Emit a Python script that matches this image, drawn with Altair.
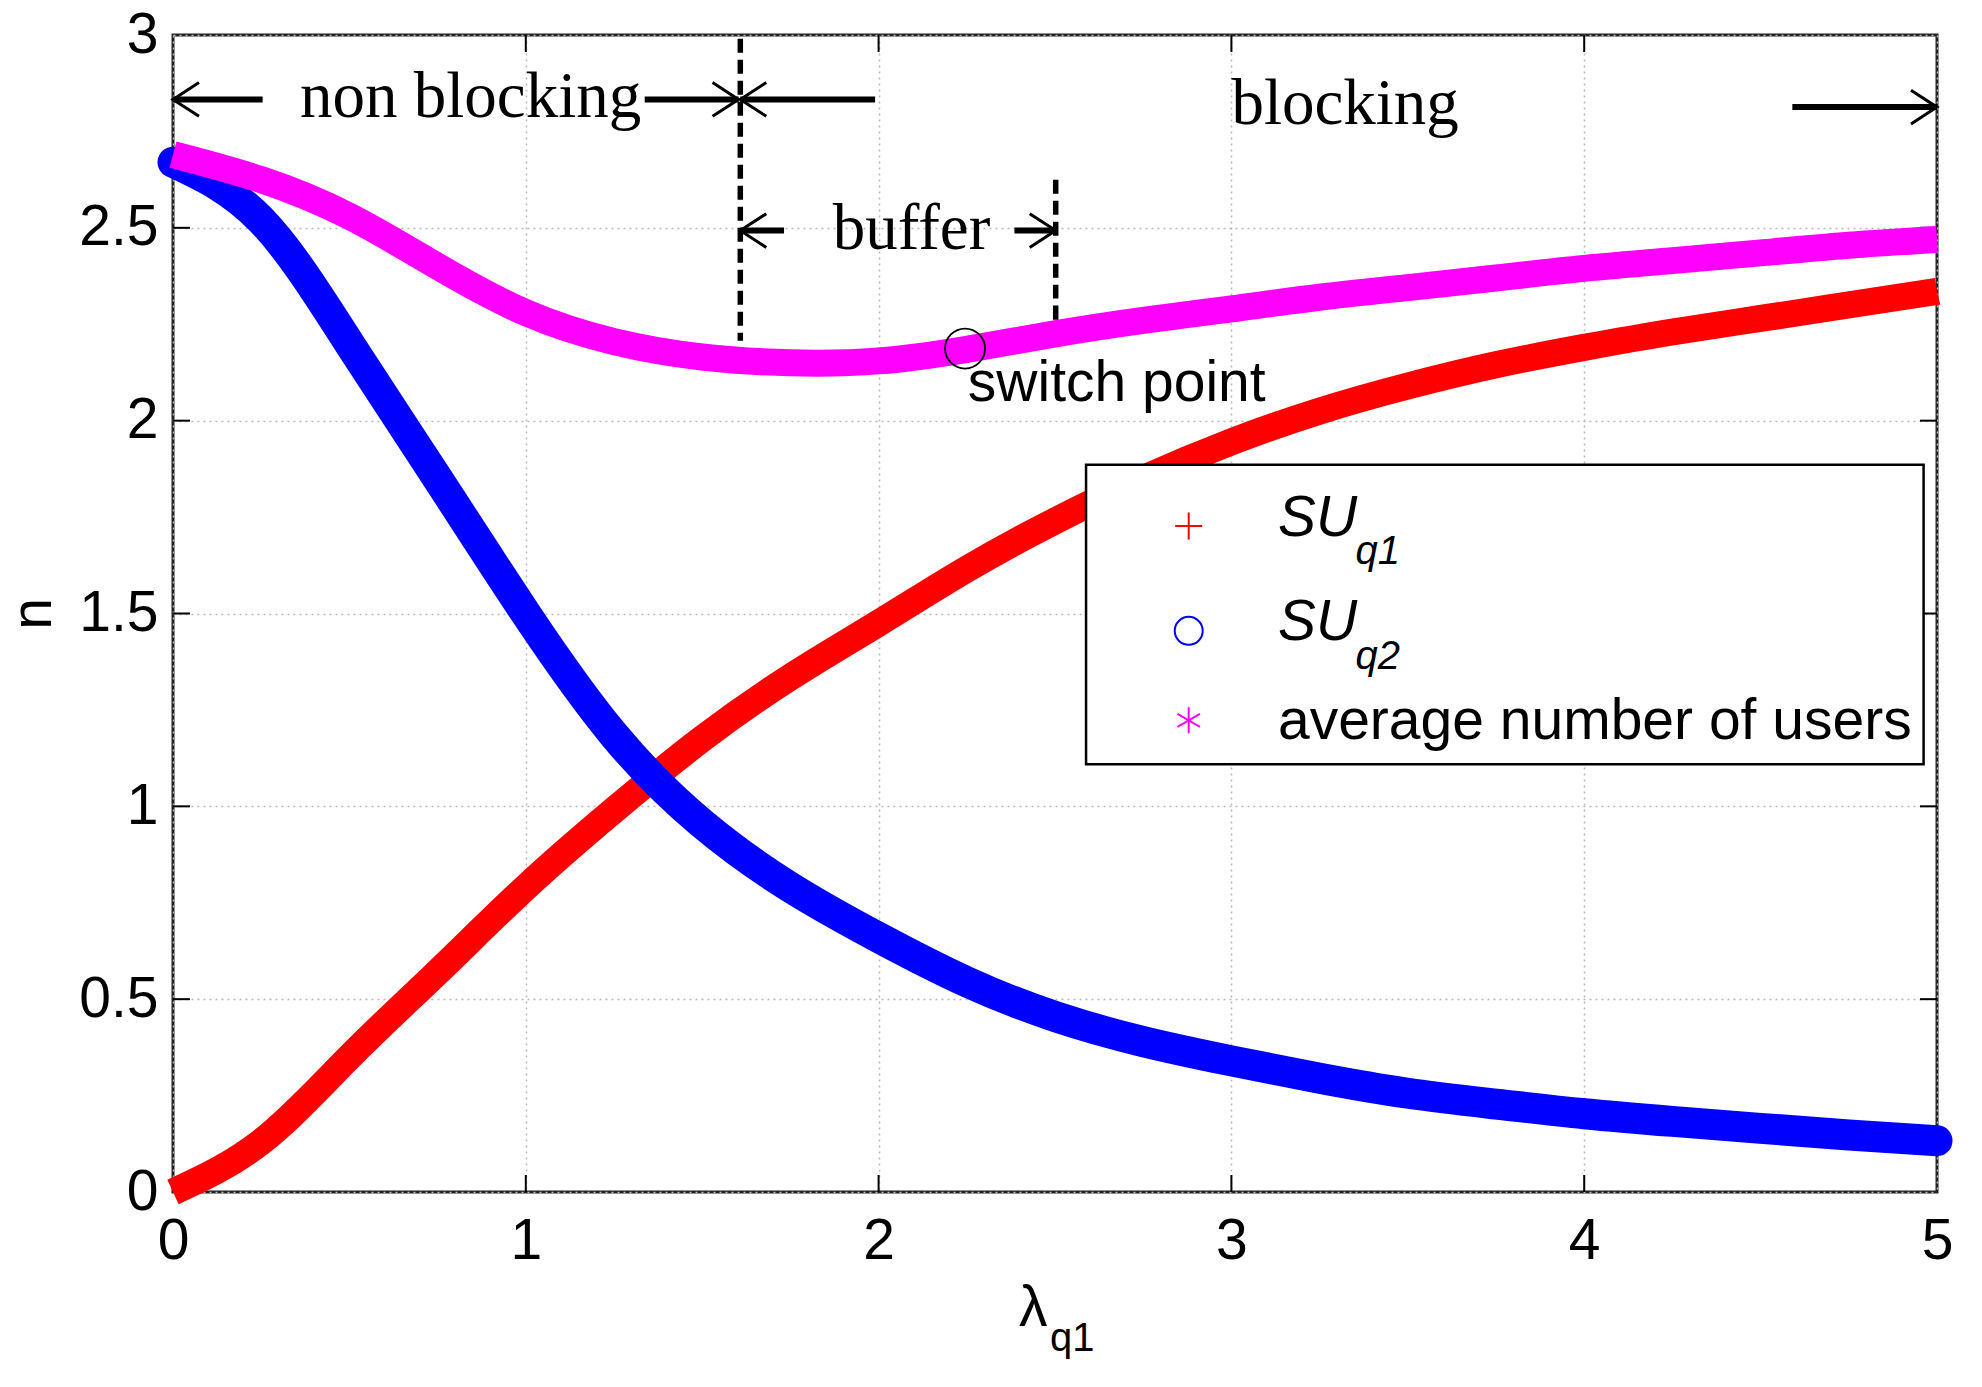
import altair as alt
import pandas as pd

# ---------------- data ----------------
x_vals = [0.0, 0.25, 0.5, 0.75, 1.0, 1.25, 1.5, 1.75, 2.0, 2.25, 2.5, 2.75,
          3.0, 3.25, 3.5, 3.75, 4.0, 4.25, 4.5, 4.75, 5.0]
su_q1 = [0.0, 0.13, 0.35, 0.57, 0.79, 0.99, 1.175, 1.335, 1.475, 1.615, 1.74, 1.85,
         1.945, 2.025, 2.09, 2.145, 2.19, 2.23, 2.265, 2.30, 2.335]
su_q2 = [2.67, 2.52, 2.20, 1.85, 1.50, 1.185, 0.955, 0.79, 0.66, 0.545, 0.455, 0.39,
         0.34, 0.295, 0.256, 0.228, 0.203, 0.183, 0.165, 0.148, 0.133]
avg_users = [2.69, 2.625, 2.53, 2.40, 2.28, 2.205, 2.165, 2.15, 2.155, 2.185, 2.225, 2.26,
             2.29, 2.32, 2.345, 2.37, 2.395, 2.415, 2.435, 2.455, 2.47]

x_ticks = [0, 1, 2, 3, 4, 5]
y_ticks = [0, 0.5, 1, 1.5, 2, 2.5, 3]
inner_x_ticks = [1, 2, 3, 4]
inner_y_ticks = [0.5, 1, 1.5, 2, 2.5]

# annotations (data coordinates)
region_labels = ["non blocking", "buffer", "blocking"]
region_x = [0.36, 1.87, 3.0]
region_y = [2.788, 2.445, 2.77]

shaft_x1 = [0.0, 1.337, 1.608, 1.608, 2.385, 4.59]
shaft_x2 = [0.254, 1.603, 1.99, 1.732, 2.502, 5.0]
shaft_y = [2.833, 2.833, 2.833, 2.493, 2.493, 2.813]
head_left_x = [0.0, 1.608, 1.608]
head_left_y = [2.833, 2.833, 2.493]
head_right_x = [1.603, 2.502, 5.0]
head_right_y = [2.833, 2.493, 2.813]

dash_x = [1.608, 2.502]
dash_y1 = [2.99, 2.625]
dash_y2 = [2.207, 2.255]

switch_x = [2.245]
switch_y = [2.187]
switch_label = ["switch point"]
switch_label_x = [2.253]
switch_label_y = [2.05]

legend_box_x = [2.588]
legend_box_x2 = [4.962]
legend_box_y = [1.886]
legend_box_y2 = [1.109]
legend_marker_x = 2.879
legend_marker_y = [1.727, 1.455, 1.223]
legend_main = ["SU", "SU", "average number of users"]
legend_main_y = [1.70, 1.43, 1.174]
legend_text_x = 3.132
legend_sub = ["q1", "q2"]
legend_sub_x = 3.352
legend_sub_y = [1.628, 1.355]

xtitle_main = ["λ"]
xtitle_sub = ["q1"]
xtitle_x = [2.398]
xtitle_sub_x = [2.486]

# ---------------- geometry / style ----------------
W, H = 1764, 1157
SANS = "Liberation Sans"
SERIF = "Liberation Serif"

xscale = alt.Scale(domain=[0, 5], nice=False, zero=False)
yscale = alt.Scale(domain=[0, 3], nice=False, zero=False)

xaxis = alt.Axis(values=x_ticks, format="~g", labelFont=SANS, labelFontSize=57,
                 labelColor="black", labelPadding=21, ticks=False, tickSize=0,
                 domain=False, grid=True, gridColor="#b8b8b8", gridDash=[2, 4],
                 gridWidth=1.5, labelFlush=False, labelOverlap=False, title=None)
yaxis = alt.Axis(values=y_ticks, format="~g", labelFont=SANS, labelFontSize=57,
                 labelColor="black", labelPadding=15, ticks=False, tickSize=0,
                 domain=False, grid=True, gridColor="#b8b8b8", gridDash=[2, 4],
                 gridWidth=1.5, labelFlush=False, labelOverlap=False,
                 title="n", titleFont=SANS, titleFontSize=57, titleFontWeight="normal",
                 titleColor="black", titlePadding=16)


def X(f):
    return alt.X(f, type="quantitative", scale=xscale, axis=xaxis)


def Y(f):
    return alt.Y(f, type="quantitative", scale=yscale, axis=yaxis)


def series(vals, color, width, cap):
    df = pd.DataFrame({"x": x_vals, "y": vals})
    return alt.Chart(df).mark_line(color=color, strokeWidth=width, strokeCap=cap,
                                   interpolate="natural", clip=False).encode(x=X("x"), y=Y("y"))


red = series(su_q1, "#ff0000", 27, "butt")
blue = series(su_q2, "#0000ff", 31, "round")
mag = series(avg_users, "#ff00ff", 27, "butt")

# inward ticks on all four sides
tick_style = dict(color="black", strokeWidth=2)
df_xt = pd.DataFrame({"x": inner_x_ticks})
df_yt = pd.DataFrame({"y": inner_y_ticks})
ticks_bottom = alt.Chart(df_xt).mark_rule(**tick_style).encode(x=X("x"), y=alt.value(H), y2=alt.value(H - 17))
ticks_top = alt.Chart(df_xt).mark_rule(**tick_style).encode(x=X("x"), y=alt.value(0), y2=alt.value(17))
ticks_left = alt.Chart(df_yt).mark_rule(**tick_style).encode(y=Y("y"), x=alt.value(0), x2=alt.value(17))
ticks_right = alt.Chart(df_yt).mark_rule(**tick_style).encode(y=Y("y"), x=alt.value(W), x2=alt.value(W - 17))

# switch point
df_sw = pd.DataFrame({"x": switch_x, "y": switch_y})
sw_circle = alt.Chart(df_sw).mark_point(shape="circle", filled=False, color="black",
                                        size=1600, strokeWidth=1.8, opacity=1).encode(x=X("x"), y=Y("y"))
df_swl = pd.DataFrame({"x": switch_label_x, "y": switch_label_y, "t": switch_label})
sw_text = alt.Chart(df_swl).mark_text(font=SANS, fontSize=57, align="left", baseline="alphabetic",
                                      color="black").encode(x=X("x"), y=Y("y"), text="t:N")

# dashed boundaries
df_dash = pd.DataFrame({"x": dash_x, "y": dash_y1, "y2": dash_y2})
dashes = alt.Chart(df_dash).mark_rule(color="black", strokeWidth=5.5, strokeDash=[14, 7]).encode(
    x=X("x"), y=Y("y"), y2=alt.Y2("y2"))

# arrows
df_sh = pd.DataFrame({"x": shaft_x1, "x2": shaft_x2, "y": shaft_y})
shafts = alt.Chart(df_sh).mark_rule(color="black", strokeWidth=6).encode(x=X("x"), x2=alt.X2("x2"), y=Y("y"))
left_path = "M1,-0.65L0,0L1,0.65"
right_path = "M-1,-0.65L0,0L-1,0.65"
heads_l = alt.Chart(pd.DataFrame({"x": head_left_x, "y": head_left_y})).mark_point(
    shape=left_path, filled=False, color="black", strokeWidth=3, size=2704, opacity=1).encode(x=X("x"), y=Y("y"))
heads_r = alt.Chart(pd.DataFrame({"x": head_right_x, "y": head_right_y})).mark_point(
    shape=right_path, filled=False, color="black", strokeWidth=3, size=2704, opacity=1).encode(x=X("x"), y=Y("y"))

df_reg = pd.DataFrame({"x": region_x, "y": region_y, "t": region_labels})
regions = alt.Chart(df_reg).mark_text(font=SERIF, fontSize=65, align="left", baseline="alphabetic",
                                      color="black").encode(x=X("x"), y=Y("y"), text="t:N")

# legend
df_lb = pd.DataFrame({"x": legend_box_x, "x2": legend_box_x2, "y": legend_box_y, "y2": legend_box_y2})
leg_box = alt.Chart(df_lb).mark_rect(fill="white", stroke="black", strokeWidth=2.5).encode(
    x=X("x"), x2=alt.X2("x2"), y=Y("y"), y2=alt.Y2("y2"))
plus_path = "M-1,0L1,0M0,-1L0,1"
star_path = "M0,-1L0,1M-0.866,-0.5L0.866,0.5M-0.866,0.5L0.866,-0.5"
leg_plus = alt.Chart(pd.DataFrame({"x": [legend_marker_x], "y": [legend_marker_y[0]]})).mark_point(
    shape=plus_path, filled=False, color="#ff0000", strokeWidth=2, size=729, opacity=1).encode(x=X("x"), y=Y("y"))
leg_circ = alt.Chart(pd.DataFrame({"x": [legend_marker_x], "y": [legend_marker_y[1]]})).mark_point(
    shape="circle", filled=False, color="#0000ff", strokeWidth=2, size=784, opacity=1).encode(x=X("x"), y=Y("y"))
leg_star = alt.Chart(pd.DataFrame({"x": [legend_marker_x], "y": [legend_marker_y[2]]})).mark_point(
    shape=star_path, filled=False, color="#ff00ff", strokeWidth=2, size=676, opacity=1).encode(x=X("x"), y=Y("y"))

df_lm = pd.DataFrame({"x": [legend_text_x] * 3, "y": legend_main_y, "t": legend_main})
leg_main_su = alt.Chart(df_lm.iloc[:2]).mark_text(font=SANS, fontSize=57, fontStyle="italic", align="left",
                                                  baseline="alphabetic", color="black").encode(
    x=X("x"), y=Y("y"), text="t:N")
leg_main_avg = alt.Chart(df_lm.iloc[2:]).mark_text(font=SANS, fontSize=57, align="left",
                                                   baseline="alphabetic", color="black").encode(
    x=X("x"), y=Y("y"), text="t:N")
df_ls = pd.DataFrame({"x": [legend_sub_x] * 2, "y": legend_sub_y, "t": legend_sub})
leg_sub = alt.Chart(df_ls).mark_text(font=SANS, fontSize=40, fontStyle="italic", align="left",
                                     baseline="alphabetic", color="black").encode(x=X("x"), y=Y("y"), text="t:N")

# x-axis title  λ_q1
xt_main = alt.Chart(pd.DataFrame({"x": xtitle_x, "t": xtitle_main})).mark_text(
    font=SANS, fontSize=57, align="left", baseline="alphabetic", color="black").encode(
    x=X("x"), y=alt.value(1291), text="t:N")
xt_sub = alt.Chart(pd.DataFrame({"x": xtitle_sub_x, "t": xtitle_sub})).mark_text(
    font=SANS, fontSize=40, align="left", baseline="alphabetic", color="black").encode(
    x=X("x"), y=alt.value(1316), text="t:N")

chart = alt.layer(
    ticks_bottom, ticks_top, ticks_left, ticks_right,
    red, blue, mag,
    sw_circle, sw_text, dashes, shafts, heads_l, heads_r, regions,
    leg_box, leg_plus, leg_circ, leg_star, leg_main_su, leg_main_avg, leg_sub,
    xt_main, xt_sub,
).properties(
    width=W, height=H,
    autosize=alt.AutoSizeParams(type="none"),
    padding={"left": 165, "top": 27, "right": 37, "bottom": 187},
    background="white",
).configure_view(stroke="#222222", strokeWidth=3)

chart.save("out.html", embed_options={"renderer": "svg", "actions": False})
